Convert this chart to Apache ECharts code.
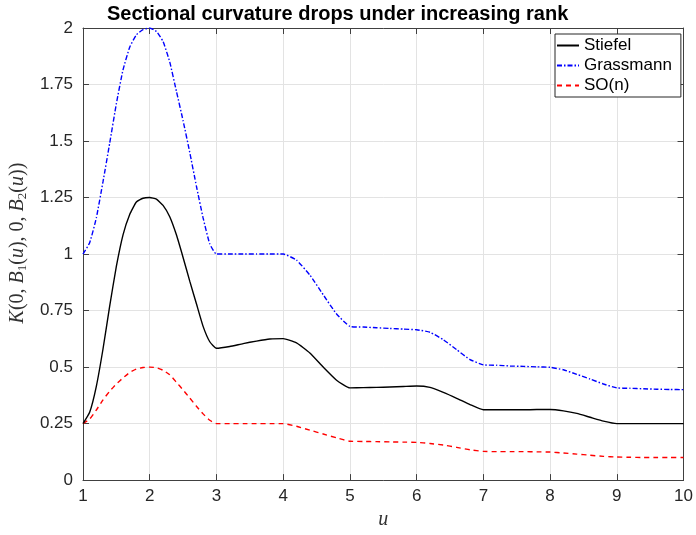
<!DOCTYPE html>
<html>
<head>
<meta charset="utf-8">
<script src="https://cdn.jsdelivr.net/npm/echarts@6/dist/echarts.min.js"></script>
<style>
  html, body { margin: 0; padding: 0; background: #fff; }
  #chart { width: 696px; height: 535px; }
</style>
</head>
<body>
<div id="chart"></div>
<script>
// sample points along u (dense on 1..3, coarser afterwards)
var U = [1.0, 1.1, 1.2, 1.3, 1.4, 1.5, 1.6, 1.7, 1.8, 1.9, 2.0,
  2.1, 2.2, 2.3, 2.4, 2.5, 2.6, 2.7, 2.8, 2.9, 3.0,
  3.2, 3.4, 3.6, 3.8, 4.0, 4.2, 4.4, 4.6, 4.8, 5.0,
  5.2, 5.4, 5.6, 5.8, 6.0, 6.2, 6.4, 6.6, 6.8, 7.0,
  7.2, 7.4, 7.6, 7.8, 8.0, 8.2, 8.4, 8.6, 8.8, 9.0,
  9.2, 9.4, 9.6, 9.8, 10.0];

var stiefel = [0.25, 0.30, 0.415, 0.58, 0.77, 0.945, 1.085, 1.175, 1.23, 1.247, 1.25,
  1.243, 1.215, 1.165, 1.085, 0.985, 0.88, 0.78, 0.68, 0.612, 0.583,
  0.591, 0.604, 0.615, 0.624, 0.626, 0.607, 0.562, 0.50, 0.442, 0.408,
  0.409, 0.41, 0.412, 0.414, 0.416, 0.41, 0.388, 0.362, 0.334, 0.311,
  0.311, 0.311, 0.311, 0.312, 0.312, 0.306, 0.295, 0.278, 0.261, 0.25,
  0.25, 0.25, 0.25, 0.25, 0.25];

var grassmann = [1.0, 1.05, 1.16, 1.32, 1.49, 1.665, 1.815, 1.915, 1.97, 1.993, 2.0,
  1.985, 1.94, 1.85, 1.72, 1.59, 1.45, 1.30, 1.16, 1.045, 1.0,
  1.0, 1.0, 1.0, 1.0, 1.0, 0.973, 0.907, 0.82, 0.735, 0.68,
  0.677, 0.674, 0.671, 0.668, 0.665, 0.654, 0.621, 0.577, 0.533, 0.51,
  0.508, 0.505, 0.503, 0.501, 0.499, 0.488, 0.468, 0.447, 0.425, 0.408,
  0.406, 0.404, 0.402, 0.401, 0.40];

var son = [0.25, 0.27, 0.31, 0.355, 0.393, 0.425, 0.452, 0.476, 0.491, 0.498, 0.5,
  0.497, 0.486, 0.466, 0.433, 0.399, 0.363, 0.327, 0.293, 0.265, 0.25,
  0.25, 0.25, 0.25, 0.25, 0.25, 0.238, 0.221, 0.204, 0.187, 0.172,
  0.171, 0.17, 0.169, 0.168, 0.167, 0.162, 0.155, 0.145, 0.134, 0.127,
  0.126, 0.126, 0.126, 0.125, 0.124, 0.12, 0.115, 0.11, 0.105, 0.102,
  0.101, 0.1, 0.1, 0.1, 0.1];

function pairs(ys) {
  return U.map(function (u, i) { return [u, ys[i]]; });
}

var chart = echarts.init(document.getElementById('chart'), null, { renderer: 'canvas' });

var axisColor = '#404040';
var serif = 'Liberation Serif, DejaVu Serif, serif';
var labelFont = {
  color: '#262626',
  fontFamily: 'Liberation Sans, Arial, sans-serif',
  fontSize: 17
};

var xCommon = {
  type: 'value', min: 1, max: 10, interval: 1,
  axisLine: { onZero: false, lineStyle: { color: axisColor, width: 1 } },
  axisTick: { show: true, inside: true, length: 6, lineStyle: { color: axisColor } }
};
var yCommon = {
  type: 'value', min: 0, max: 2, interval: 0.25,
  axisLine: { onZero: false, lineStyle: { color: axisColor, width: 1 } },
  axisTick: { show: true, inside: true, length: 6, lineStyle: { color: axisColor } }
};

var option = {
  animation: false,
  backgroundColor: '#fff',
  title: {
    text: 'Sectional curvature drops under increasing rank',
    left: 102, top: -1,
    textStyle: {
      color: '#000',
      fontFamily: 'Liberation Sans, Arial, sans-serif',
      fontWeight: 'bold',
      fontSize: 20
    }
  },
  legend: {
    orient: 'vertical',
    left: 555, top: 34,
    padding: [3, 9, 3, 1],
    itemWidth: 22, itemHeight: 14, itemGap: 3,
    backgroundColor: '#fff',
    borderColor: '#262626', borderWidth: 1,
    itemStyle: { opacity: 0 },
    textStyle: { color: '#000', fontFamily: 'Liberation Sans, Arial, sans-serif', fontSize: 17, lineHeight: 17 },
    data: ['Stiefel', 'Grassmann', 'SO(n)']
  },
  grid: { left: 82, right: 8, top: 28, bottom: 52 },
  xAxis: [
    Object.assign({}, xCommon, {
      position: 'bottom',
      name: 'u',
      nameLocation: 'middle',
      nameGap: 29,
      nameTextStyle: { color: '#333', fontFamily: serif, fontStyle: 'italic', fontSize: 20 },
      axisLabel: Object.assign({ margin: 8 }, labelFont),
      splitLine: { show: true, lineStyle: { color: '#e3e3e3', width: 1 } }
    }),
    Object.assign({}, xCommon, {
      position: 'top',
      axisLabel: { show: false },
      splitLine: { show: false }
    })
  ],
  yAxis: [
    Object.assign({}, yCommon, {
      position: 'left',
      name: '{i|K}(0, {i|B}{s|1}({i|u}), 0, {i|B}{s|2}({i|u}))',
      nameLocation: 'middle',
      nameGap: 50,
      nameTextStyle: {
        color: '#333',
        fontFamily: serif,
        fontSize: 20,
        padding: [0, 0, 0, 22],
        rich: {
          i: { fontStyle: 'italic', fontFamily: serif, fontSize: 20, color: '#333' },
          s: { fontFamily: serif, fontSize: 13, color: '#333', verticalAlign: 'bottom', padding: [9, 0, 0, 0] }
        }
      },
      axisLabel: Object.assign({ margin: 10 }, labelFont),
      splitLine: { show: true, lineStyle: { color: '#e3e3e3', width: 1 } }
    }),
    Object.assign({}, yCommon, {
      position: 'right',
      axisLabel: { show: false },
      splitLine: { show: false }
    })
  ],
  series: [
    {
      name: 'Stiefel', type: 'line', symbol: 'none', smooth: 0.15,
      color: '#000000',
      lineStyle: { color: '#000000', width: 1.4 },
      data: pairs(stiefel), z: 3
    },
    {
      name: 'Grassmann', type: 'line', symbol: 'none', smooth: 0.15,
      color: '#0000ff',
      lineStyle: { color: '#0000ff', width: 1.4, type: [5, 2, 1.5, 2] },
      data: pairs(grassmann), z: 2
    },
    {
      name: 'SO(n)', type: 'line', symbol: 'none', smooth: 0.15,
      color: '#ff0000',
      lineStyle: { color: '#ff0000', width: 1.4, type: [5, 4] },
      data: pairs(son), z: 2
    }
  ]
};

chart.setOption(option);
</script>
</body>
</html>
